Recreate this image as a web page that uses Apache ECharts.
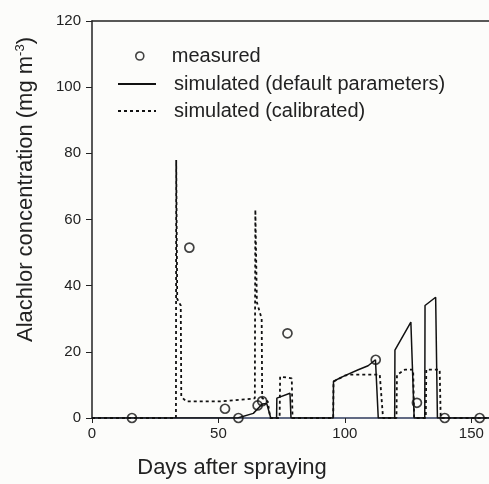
<!DOCTYPE html>
<html>
<head>
<meta charset="utf-8">
<script src="https://cdn.jsdelivr.net/npm/echarts@6/dist/echarts.min.js"></script>
<style>
  html, body { margin: 0; padding: 0; background: #fcfcfa; }
  #main { width: 489px; height: 484px; }
</style>
</head>
<body>
<div id="main"></div>
<script>
// measured concentrations
const measuredDays = [15.8, 38.5, 52.6, 57.9, 65.5, 67.3, 77.3, 112.2, 128.5, 139.5, 153.3];
const measuredVals = [0, 51.5, 2.8, 0, 3.8, 5.1, 25.6, 17.6, 4.6, 0, 0];

// simulated, default parameters
const defaultDays = [0, 57.6, 63.8, 67.3, 69.1, 70.7, 73.0, 73.1, 78.3, 78.7, 95.4, 95.5, 100, 105.3, 109.2, 112.1, 113.2,
  119.7, 119.8, 126.1, 127.4, 131.6, 131.7, 135.9, 136.6, 157];
const defaultVals = [0, 0, 1.4, 4.2, 4.4, 0, 0, 6, 7.5, 0, 0, 11.1, 12.8, 14.6, 15.8, 17.6, 0,
  0, 20.5, 29, 0, 0, 34, 36.5, 0, 0];

// simulated, calibrated
const calDays = [0, 33.2, 33.3, 33.7, 35.1, 35.3, 37.2, 50, 63.5, 64.4, 64.6, 65.2, 67.1, 67.3, 69.5, 70.5,
  74.2, 74.4, 79, 79.3, 95.4, 95.5, 100, 102, 113.8, 115.1, 120.4, 120.6, 123.7, 127, 127.4,
  132, 132.2, 137.5, 137.9, 157];
const calVals = [0, 0, 78, 36, 34, 6.5, 5, 5, 5.8, 6, 63, 35, 30, 6, 5, 0,
  0, 12.5, 12, 0, 0, 11, 12.8, 13.1, 13.1, 0, 0, 13, 14.6, 14.6, 0,
  0, 14.6, 14.6, 0, 0];

const yTicks = [0, 20, 40, 60, 80, 100, 120];

const zip = (xs, ys) => xs.map((x, i) => [x, ys[i]]);

const font = "'Liberation Sans', Arial, sans-serif";
const ink = '#222';
const noSymbol = { color: 'rgba(0,0,0,0)', borderColor: 'rgba(0,0,0,0)', borderWidth: 0 };

const chart = echarts.init(document.getElementById('main'), null, { renderer: 'canvas' });

chart.setOption({
  backgroundColor: '#fcfcfa',
  animation: false,
  textStyle: { fontFamily: font, color: ink },
  grid: { left: 92, right: 0, top: 21, bottom: 66 },
  legend: [
    {
      data: [{ name: 'measured', itemStyle: { color: 'rgba(0,0,0,0)', borderColor: '#111', borderWidth: 1.6 } }],
      orient: 'vertical',
      left: 135, top: 46, padding: 0,
      itemWidth: 38, itemHeight: 8,
      textStyle: { fontSize: 20, color: ink, fontFamily: font, padding: [0, 0, 0, 8] }
    },
    {
      data: [
        { name: 'simulated (default parameters)', itemStyle: noSymbol },
        { name: 'simulated (calibrated)', itemStyle: noSymbol }
      ],
      orient: 'vertical',
      left: 117, top: 74, padding: 0,
      itemWidth: 38, itemHeight: 14, itemGap: 7,
      textStyle: { fontSize: 20, color: ink, fontFamily: font, padding: [0, 0, 0, 13] }
    }
  ],
  xAxis: [
    {
      type: 'value', min: 0, max: 157, interval: 50,
      name: 'Days after spraying',
      nameLocation: 'middle', nameGap: 39,
      nameTextStyle: { fontSize: 22, color: ink, fontFamily: font, padding: [0, 117, 0, 0] },
      axisLine: { lineStyle: { color: '#2e3a5c', width: 1.5 } },
      axisTick: { length: 5, lineStyle: { color: ink } },
      axisLabel: { fontSize: 15, color: ink, margin: 8, fontFamily: font },
      splitLine: { show: false }
    },
    {
      type: 'value', min: 0, max: 157, position: 'top',
      axisLine: { show: true, lineStyle: { color: ink, width: 1.5 } },
      axisTick: { show: false }, axisLabel: { show: false }, splitLine: { show: false }
    }
  ],
  yAxis: {
    type: 'value', min: yTicks[0], max: yTicks[yTicks.length - 1], interval: 20,
    name: '{a|Alachlor concentration (mg m}{s|-3}{a|)}',
    nameLocation: 'middle', nameGap: 55, nameRotate: 90,
    nameTextStyle: {
      fontSize: 22, color: ink, fontFamily: font, padding: [0, 0, 0, 60],
      rich: {
        a: { fontSize: 22, color: ink, fontFamily: font },
        s: { fontSize: 13, color: ink, fontFamily: font, padding: [0, 0, 10, 0] }
      }
    },
    axisLine: { show: true, lineStyle: { color: ink, width: 1.5 } },
    axisTick: { show: true, length: 6, lineStyle: { color: ink } },
    axisLabel: { fontSize: 15, color: ink, margin: 11, fontFamily: font },
    splitLine: { show: false }
  },
  series: [
    {
      name: 'simulated (default parameters)',
      type: 'line', symbol: 'none', smooth: false,
      lineStyle: { color: '#111', width: 1.5, type: 'solid' },
      itemStyle: { color: '#111' },
      data: zip(defaultDays, defaultVals)
    },
    {
      name: 'simulated (calibrated)',
      type: 'line', symbol: 'none', smooth: false,
      lineStyle: { color: '#111', width: 1.8, type: [3, 3] },
      itemStyle: { color: '#111' },
      data: zip(calDays, calVals)
    },
    {
      name: 'measured',
      type: 'scatter', symbol: 'circle', symbolSize: 9, z: 5,
      itemStyle: { color: 'rgba(255,255,255,0)', borderColor: '#111', borderWidth: 1.7 },
      data: zip(measuredDays, measuredVals)
    }
  ]
});
</script>
</body>
</html>
